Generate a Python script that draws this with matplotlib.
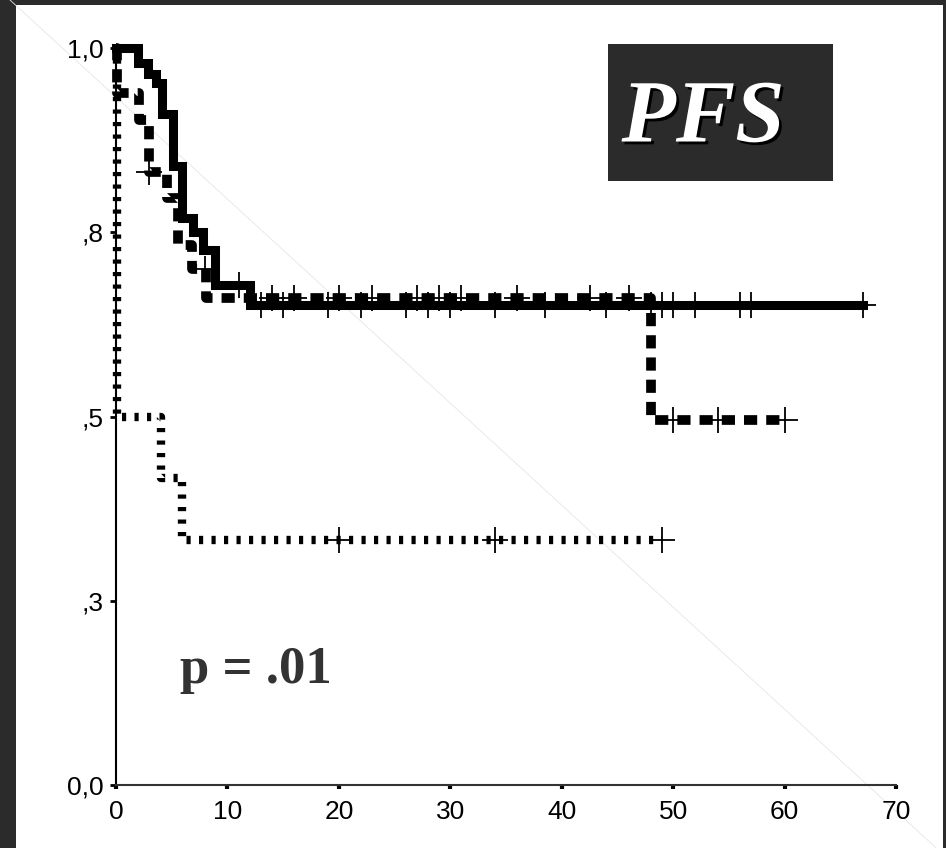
import numpy as np
import matplotlib
matplotlib.use('Agg')
import matplotlib.pyplot as plt
from matplotlib.patches import Rectangle
from matplotlib.lines import Line2D
import matplotlib.patheffects as pe

plt.rcParams['lines.scale_dashes'] = False

# Kaplan-Meier kroki: czas (miesiace) i przezycie po kroku
solid_t = [0, 2.0, 2.9, 3.6, 4.1, 5.1, 5.9, 6.9, 7.8, 8.9, 12.0]
solid_s = [1.0, 0.98, 0.965, 0.952, 0.91, 0.84, 0.77, 0.75, 0.726, 0.678, 0.651]
solid_end = 67
solid_cens = [11, 13, 15, 19, 22, 26, 28, 30, 34, 38.5, 44, 48, 49, 50, 52, 56, 57, 67]

dash_t = [0, 0.05, 2.1, 3.0, 4.6, 5.6, 6.8, 8.1, 48.0]
dash_s = [1.0, 0.939, 0.902, 0.832, 0.797, 0.733, 0.70, 0.661, 0.495]
dash_end = 60
dash_cens = [3.0, 8.0, 14, 16, 20, 23, 27, 29, 31, 36, 42.5, 46, 50, 54, 60]

dot_t = [0, 0.05, 4.0, 5.9]
dot_s = [1.0, 0.5, 0.417, 0.333]
dot_end = 49
dot_cens = [20, 34, 49]

y_ticks = [0, 0.25, 0.5, 0.75, 1.0]
y_labels = ['0,0', ',3', ',5', ',8', '1,0']
x_ticks = [0, 10, 20, 30, 40, 50, 60, 70]

dark = '#2b2b2b'

fig = plt.figure(figsize=(9.46, 8.48), dpi=100, facecolor=dark)
fig.add_artist(Rectangle((16 / 946, 0), 927 / 946, 843 / 848, transform=fig.transFigure,
                         facecolor='white', edgecolor='none', zorder=-10))
# cienka przekatna widoczna na oryginale
fig.add_artist(Line2D([10 / 946, 1], [1, -9 / 848], transform=fig.transFigure,
                      color='#e6e6e6', lw=0.6, zorder=-5))

ax = fig.add_axes([116 / 946, 63 / 848, 780 / 946, 737 / 848])
ax.patch.set_visible(False)


def km(ax, t, s, end, cens, **kw):
    tt = list(t) + [end]
    ss = list(s) + [s[-1]]
    ax.step(tt, ss, where='post', color='black', clip_on=False, **kw)
    idx = np.searchsorted(t, cens, side='right') - 1
    cy = np.array(s)[idx]
    ax.plot(cens, cy, ls='none', marker='+', ms=19, mew=1.3, color='black', clip_on=False)


km(ax, dot_t, dot_s, dot_end, dot_cens, lw=6, ls=(0, (3, 6)), solid_capstyle='butt', dash_capstyle='butt')
km(ax, dash_t, dash_s, dash_end, dash_cens, lw=7, ls=(0, (9.5, 6.5)), dash_capstyle='butt')
km(ax, solid_t, solid_s, solid_end, solid_cens, lw=6.5, solid_joinstyle='miter')

ax.set_xlim(0, 70)
ax.set_ylim(0, 1.0)
ax.spines['top'].set_visible(False)
ax.spines['right'].set_visible(False)
ax.spines['left'].set_linewidth(1.5)
ax.spines['bottom'].set_linewidth(1.5)
ax.spines['bottom'].set_color('#333333')

ax.set_xticks(x_ticks)
ax.set_xticklabels([str(v) for v in x_ticks])
ax.set_yticks(y_ticks)
ax.set_yticklabels(y_labels)
for lab in ax.get_xticklabels() + ax.get_yticklabels():
    lab.set_family('Liberation Sans')
    lab.set_fontsize(19)
ax.tick_params(axis='x', length=3, width=3, pad=8)
ax.tick_params(axis='y', length=4, width=2, pad=5)

ax.text(5.7, 0.138, 'p = .01', family='Liberation Serif', fontweight='bold',
        fontsize=38, color='#333333', va='baseline', ha='left')

ax.add_patch(Rectangle((0.6308, 0.8195), 0.2885, 0.1859, transform=ax.transAxes,
                       facecolor=dark, edgecolor='none', clip_on=False, zorder=5))
ax.text(0.7526, 0.9023, 'PFS', transform=ax.transAxes, family='Liberation Serif',
        fontweight='bold', style='italic', fontsize=64, color='white',
        ha='center', va='center', zorder=6,
        path_effects=[pe.withSimplePatchShadow(offset=(2, -2), shadow_rgbFace='black', alpha=1)])

fig.savefig('out.png', dpi=100, facecolor=dark)
